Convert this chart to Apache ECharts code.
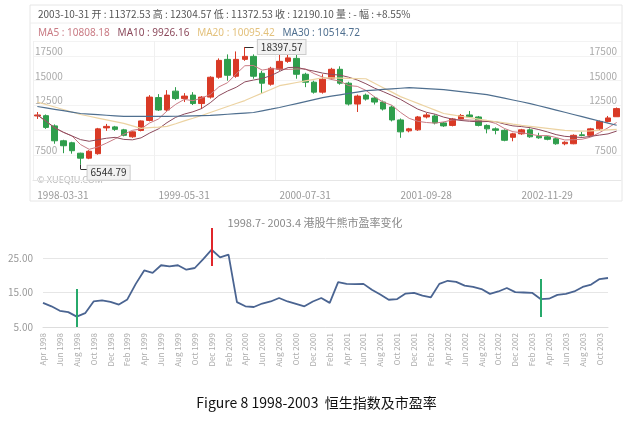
<!DOCTYPE html>
<html>
<head>
  <meta charset="utf-8">
  <style>
    html, body { margin: 0; padding: 0; background: #fff; }
    #main { width: 633px; height: 427px; }
  </style>
</head>
<body>
  <div id="main"></div>
  <script src="https://cdn.jsdelivr.net/npm/echarts@6/dist/echarts.min.js"></script>
  <script>
  // monthly candles, 1998-03 .. 2003-10 : [open, close, low, high]
  var candles = [
    [11450,11550,11150,11850],[11480,10300,10150,11600],[10450,8950,8650,10600],[8950,8450,7700,9050],
    [8750,7950,7650,8850],[7700,7200,6544.79,7750],[7200,7900,7100,8000],[7650,10150,7550,10250],
    [10250,10400,9950,10650],[10350,10100,9950,10450],[10050,9500,9400,10150],[9350,9850,9250,9900],
    [9990,10950,9900,11000],[11000,13350,10900,13550],[13300,12050,11950,13650],[12050,13550,11950,14050],
    [13950,13200,13050,14350],[13200,13450,12850,13750],[13550,12700,12550,13850],[12700,13350,12150,13450],
    [13350,15350,13200,15450],[15350,17050,15200,17250],[17150,15550,15000,17650],[15450,17150,15300,17950],
    [17150,17450,17000,18397.57],[17450,15450,15200,17650],[15750,14750,13750,16000],[14650,16250,14500,16400],
    [16150,16950,16000,18000],[16950,17300,16800,17600],[17250,15650,15200,17750],[15650,14850,14350,15800],
    [14850,13850,13700,15000],[13850,15150,13700,15650],[15250,16150,15100,16300],[16150,14750,14600,16450],
    [14750,12650,12500,14900],[12650,13450,11850,13600],[13550,13150,13000,13700],[13250,12850,12600,13400],
    [12850,12150,12000,13000],[12350,11050,10900,12500],[11050,9850,9250,11200],[9950,10150,9800,10250],
    [10050,11350,9950,11450],[11350,11550,11200,11750],[11450,10750,10600,11600],[10750,10450,10350,10850],
    [10500,11150,10400,11250],[11150,11500,11050,11650],[11550,11350,11250,11950],[11350,10500,10400,11450],
    [10500,10150,9700,10600],[10150,10000,9600,10300],[10000,9000,8900,10100],[9300,9650,8900,9750],
    [9650,10050,9550,10150],[10050,9350,9250,10200],[9400,9250,9150,9750],[9350,9100,9000,9450],
    [9150,8650,8550,9250],[8650,8800,8500,8900],[8650,9500,8600,9600],[9550,9480,9400,9850],
    [9500,10150,9400,10250],[10150,10900,10050,11000],[10900,11250,10800,11450],[11372.53,12190.10,11372.53,12304.57]
  ];
  var ma20 = [12850,12600,12350,12100,11850,11600,11420,11240,11060,10880,10700,10450,10200,10270,10330,10400,
    10670,10950,11220,11500,11800,12100,12400,12700,13000,13380,13750,14120,14500,14660,14820,14980,15140,15300,
    15280,15260,15240,15220,15200,14750,14300,13850,13400,13060,12720,12380,12040,11700,11560,11420,11280,11140,
    11000,10870,10750,10620,10500,10400,10300,10200,10100,10000,9950,9920,9950,10000,10050,10095.42];
  var ma30 = [12400,12260,12120,11980,11840,11700,11640,11580,11520,11460,11400,11400,11400,11400,11400,11400,
    11420,11440,11460,11480,11500,11560,11620,11680,11740,11800,11970,12130,12300,12500,12700,12900,13100,13300,
    13440,13580,13720,13860,14000,14060,14120,14180,14240,14300,14250,14200,14150,14100,14000,13900,13800,13700,
    13600,13420,13240,13060,12880,12700,12480,12260,12040,11820,11600,11380,11160,10940,10730,10514.72];
  var dateTicks = ['1998-03-31', '1999-05-31', '2000-07-31', '2001-09-28', '2002-11-29'];

  // P/E ratio, monthly Apr 1998 .. Nov 2003
  var pe = [12.0,11.0,9.7,9.3,8.0,9.0,12.4,12.7,12.3,11.5,13.0,17.5,21.4,20.7,22.9,22.6,22.9,21.6,22.1,24.7,27.4,
    25.2,26.0,12.2,11.0,10.8,11.8,12.4,13.4,12.4,11.7,11.0,12.4,13.4,12.0,18.0,17.5,17.4,17.5,15.8,14.4,12.9,13.1,
    14.7,14.9,14.1,13.6,17.5,18.4,18.1,17.0,16.6,16.0,14.6,15.3,16.3,15.1,15.0,14.9,13.1,13.2,14.3,14.6,15.3,16.6,
    17.3,18.9,19.2];
  var monthNames = ['Jan','Feb','Mar','Apr','May','Jun','Jul','Aug','Sep','Oct','Nov','Dec'];

  var months = [];
  for (var i = 0; i < candles.length; i++) {
    var m = (2 + i) % 12, y = 1998 + Math.floor((2 + i) / 12);
    months.push(y + '-' + (m + 1));
  }
  var peMonths = [];
  for (var j = 0; j < pe.length; j++) {
    var mm = (3 + j) % 12, yy = 1998 + Math.floor((3 + j) / 12);
    peMonths.push(monthNames[mm] + ' ' + yy);
  }
  var closes = candles.map(function (c) { return c[1]; });
  function ma(n) {
    return closes.map(function (v, k) {
      var s = 0, c = 0;
      for (var t = Math.max(0, k - n + 1); t <= k; t++) { s += closes[t]; c++; }
      return +(s / c).toFixed(2);
    });
  }

  var up = '#d93a26', down = '#2f9e4c';
  var cMA5 = '#c97b84', cMA10 = '#8c4a5c', cMA20 = '#ecd3a2', cMA30 = '#4f6f8f';

  var chart = echarts.init(document.getElementById('main'));
  chart.setOption({
    animation: false,
    textStyle: { fontFamily: 'Noto Sans CJK SC, Noto Sans, sans-serif' },
    graphic: [
      { type: 'rect', shape: { x: 30, y: 5, width: 592, height: 196 }, style: { fill: 'none', stroke: '#e6e6e6' } },
      { type: 'line', shape: { x1: 30, y1: 23, x2: 622, y2: 23 }, style: { stroke: '#eeeeee' } },
      { type: 'text', left: 38, top: 9, style: { text: '2003-10-31 开 : 11372.53 高 : 12304.57 低 : 11372.53 收 : 12190.10 量 : - 幅 : +8.55%', fill: '#555', font: '10px Noto Sans CJK SC' } },
      { type: 'text', left: 38, top: 28, style: {
        rich: { a: { fill: cMA5 }, b: { fill: cMA10 }, c: { fill: '#e3c17c' }, d: { fill: cMA30 } },
        text: '{a|MA5 : 10808.18}   {b|MA10 : 9926.16}   {c|MA20 : 10095.42}   {d|MA30 : 10514.72}',
        font: '10px Noto Sans' } },
      { type: 'text', left: 37, top: 176, style: { text: '© XUEQIU.COM', fill: '#bbb', font: '9px Noto Sans' } },
      { type: 'text', left: 'center', top: 396, style: { text: 'Figure 8 1998-2003  恒生指数及市盈率', fill: '#111', font: '14px Noto Sans CJK SC' } }
    ],
    title: {
      text: '1998.7- 2003.4 港股牛熊市盈率变化', left: 310, top: 212, textAlign: 'center',
      textStyle: { fontSize: 11, fontWeight: 'normal', color: '#888' }
    },
    grid: [
      { left: 33, right: 12, top: 41, height: 139 },
      { left: 43, right: 25, top: 223.5, height: 103.5 }
    ],
    xAxis: [
      { type: 'category', gridIndex: 0, data: months, boundaryGap: true,
        axisLine: { lineStyle: { color: '#e6e6e6' } }, axisTick: { show: false },
        axisLabel: { interval: 13, align: 'left', margin: 10, fontSize: 10, color: '#999',
          formatter: function (v, idx) { return dateTicks[Math.round(idx / 14)] || ''; } },
        splitLine: { show: true, interval: 13, lineStyle: { color: '#f0f0f0' } } },
      { type: 'category', gridIndex: 1, data: peMonths, boundaryGap: false,
        axisLine: { lineStyle: { color: '#ddd' } }, axisTick: { show: false },
        axisLabel: { interval: 1, rotate: 90, fontSize: 8, color: '#aaa', margin: 6 } }
    ],
    yAxis: [
      { type: 'value', gridIndex: 0, min: 5000, max: 19000, interval: 2500, position: 'left',
        axisLine: { show: false }, axisTick: { show: false },
        splitLine: { lineStyle: { color: '#f3f3f3' } },
        axisLabel: { inside: true, verticalAlign: 'bottom', fontSize: 10, color: '#aaa', margin: 2,
          formatter: function (v) { return (v === 5000 || v === 19000 || v === 10000) ? '' : v; } } },
      { type: 'value', gridIndex: 0, min: 5000, max: 19000, interval: 2500, position: 'right',
        axisLine: { show: false }, axisTick: { show: false }, splitLine: { show: false },
        axisLabel: { inside: true, verticalAlign: 'bottom', fontSize: 10, color: '#aaa', margin: 4,
          formatter: function (v) { return (v === 5000 || v === 19000 || v === 10000) ? '' : v; } } },
      { type: 'value', gridIndex: 1, min: 5, max: 35, interval: 10,
        axisLine: { show: false }, axisTick: { show: false },
        splitLine: { lineStyle: { color: ['#e6e6e6', '#e6e6e6', '#e6e6e6', 'rgba(0,0,0,0)'] } },
        axisLabel: { fontSize: 10, color: '#999', margin: 10,
          formatter: function (v) { return v === 35 ? '' : v.toFixed(2); } } }
    ],
    series: [
      { type: 'candlestick', xAxisIndex: 0, yAxisIndex: 0, data: candles, barWidth: '70%',
        itemStyle: { color: up, color0: down, borderColor: up, borderColor0: down },
        markPoint: {
          symbol: 'rect', symbolSize: 0,
          label: { show: true, fontSize: 10, color: '#333', backgroundColor: '#f2f2f2',
            borderColor: '#ccc', borderWidth: 1, padding: [2, 3] },
          data: [
            { coord: [24, 18397.57], value: '18397.57', label: { position: 'right', offset: [8, 0] } },
            { coord: [5, 6544.79], value: '6544.79', label: { position: 'right', offset: [2, 8] } }
          ]
        },
        markLine: {
          symbol: 'none', silent: true, label: { show: false },
          lineStyle: { color: '#333', type: 'solid', width: 1 },
          data: [
            [{ coord: [24, 18397.57] }, { coord: [25.1, 18397.57] }],
            [{ coord: [5, 6544.79] }, { coord: [5, 6100] }],
            [{ coord: [5, 6100] }, { coord: [5.5, 6100] }]
          ]
        } },
      { name: 'MA5', type: 'line', data: ma(5), symbol: 'none', lineStyle: { width: 1, color: cMA5 }, z: 3 },
      { name: 'MA10', type: 'line', data: ma(10), symbol: 'none', lineStyle: { width: 1, color: cMA10 }, z: 3 },
      { name: 'MA20', type: 'line', data: ma20, symbol: 'none', lineStyle: { width: 1.2, color: cMA20 }, z: 3 },
      { name: 'MA30', type: 'line', data: ma30, symbol: 'none', lineStyle: { width: 1.2, color: cMA30 }, z: 3 },
      { type: 'line', xAxisIndex: 1, yAxisIndex: 2, data: pe, symbol: 'none',
        lineStyle: { width: 1.8, color: '#4a6491' },
        markLine: {
          symbol: 'none', silent: true, label: { show: false },
          data: [
            [{ coord: [4, 5], lineStyle: { color: '#27a96b', width: 2, type: 'solid' } }, { coord: [4, 16] }],
            [{ coord: [20, 22.7], lineStyle: { color: '#e0262b', width: 2, type: 'solid' } }, { coord: [20, 33.7] }],
            [{ coord: [59, 7.9], lineStyle: { color: '#27a96b', width: 2, type: 'solid' } }, { coord: [59, 18.9] }]
          ]
        } }
    ]
  });
  </script>
</body>
</html>
